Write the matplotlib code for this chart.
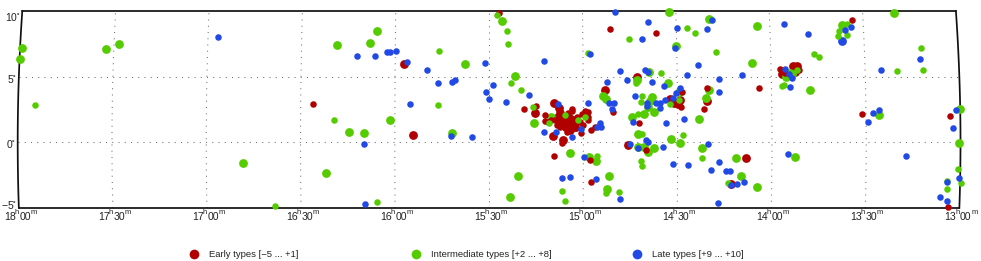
import numpy as np
import matplotlib
matplotlib.use('Agg')
import matplotlib.pyplot as plt
from matplotlib.lines import Line2D

plt.rcParams['font.family'] = ['Liberation Sans', 'DejaVu Sans']
plt.rcParams['mathtext.default'] = 'regular'

# RA in hours, Dec in degrees, bright / faint galaxies per type
early_bright_ra = [15.953, 15.903, 15.258, 15.157, 15.127, 15.132, 15.106, 15.129, 15.109, 15.079, 15.062, 15.071, 15.161, 15.106, 14.884, 14.766, 14.712, 14.539, 14.519, 14.486, 14.495, 14.344, 14.139, 14.217, 13.942, 13.881, 13.860, 13.874, 15.088, 15.053, 15.124, 15.044]
early_bright_dec = [6.00, 0.55, 2.25, 3.03, 2.60, 1.92, 1.71, 1.54, 1.46, 1.51, 1.33, 0.95, 0.47, 0.19, 3.98, -0.23, 4.99, 3.29, 2.99, 3.24, 2.93, 3.16, -1.16, -3.18, 5.22, 5.83, 5.83, 5.35, 1.84, 1.71, 2.22, 1.20]
early_faint_ra = [16.434, 15.445, 14.854, 14.611, 15.317, 15.249, 15.062, 15.203, 15.206, 15.187, 15.174, 15.124, 15.097, 15.082, 15.035, 15.032, 15.005, 14.976, 14.973, 14.973, 15.000, 15.039, 15.014, 14.961, 14.938, 15.111, 15.155, 14.958, 14.845, 14.964, 14.668, 14.705, 14.474, 14.483, 14.340, 14.361, 14.065, 13.519, 13.559, 13.054, 13.061, 13.950, 13.924, 13.853, 15.150, 15.071, 15.018, 14.991, 15.141, 15.088, 15.062]
early_faint_dec = [2.91, 9.81, 8.63, 8.34, 2.55, 2.74, 2.55, 2.08, 1.62, 1.58, 1.71, 1.20, 1.08, 2.22, 1.96, 1.58, 2.17, 2.32, 1.96, 1.71, 1.33, 1.08, 0.72, 0.95, 1.20, -0.02, -1.03, -3.01, 2.32, -1.33, -0.57, 1.50, 3.85, 2.70, 4.15, 2.57, 4.13, 2.19, 9.31, 2.04, -4.94, 5.57, 5.27, 5.47, 1.71, 1.96, 1.58, 2.35, 1.33, 0.82, 2.35]

inter_bright_ra = [17.990, 17.995, 17.543, 17.472, 16.805, 16.363, 16.313, 16.137, 16.101, 15.626, 15.432, 15.363, 16.025, 16.242, 16.166, 15.698, 15.260, 15.169, 15.071, 14.968, 14.931, 15.346, 15.387, 14.863, 14.873, 14.893, 14.879, 14.538, 14.322, 14.506, 14.648, 14.713, 14.552, 14.634, 14.645, 14.656, 14.332, 14.349, 14.490, 14.743, 14.678, 14.623, 14.708, 14.537, 14.487, 14.384, 14.369, 14.677, 14.708, 14.657, 14.627, 14.071, 14.103, 14.190, 14.164, 14.080, 13.876, 13.798, 13.923, 13.901, 13.887, 13.616, 13.332, 13.431, 13.000, 13.008]
inter_bright_dec = [7.17, 6.31, 7.07, 7.45, -1.61, -2.30, 7.43, 7.56, 8.51, 6.00, 9.23, 5.06, 1.71, 0.82, 0.70, 0.72, 1.46, 1.94, -0.85, -1.10, -1.41, -2.60, -4.17, -2.55, -3.59, 3.52, 3.29, 9.94, 9.41, 7.33, 5.37, 4.78, 4.48, 3.44, 3.18, 2.70, 3.98, 3.41, 3.82, 1.92, 2.17, 2.30, 0.67, 0.29, -0.04, 1.74, -0.40, -0.32, -0.32, -0.70, -0.40, 8.82, 6.05, -1.18, -2.60, -3.39, -1.13, 3.98, 4.99, 5.29, 5.22, 8.90, 9.81, 2.09, 2.50, -0.04]
inter_faint_ra = [17.912, 16.637, 15.769, 15.459, 15.407, 15.400, 15.381, 15.328, 15.771, 16.322, 15.265, 15.182, 15.097, 14.991, 14.973, 14.926, 15.114, 15.097, 16.094, 14.878, 14.809, 14.751, 14.443, 14.402, 14.292, 14.584, 14.720, 14.687, 14.693, 14.541, 14.493, 14.708, 14.690, 14.471, 14.369, 14.692, 14.690, 14.233, 13.946, 13.931, 13.861, 13.769, 13.744, 13.585, 13.631, 13.638, 13.591, 13.198, 13.332, 13.194, 13.010, 12.996, 13.072, 13.067, 15.027]
inter_faint_dec = [2.88, -4.86, 6.92, 9.73, 8.51, 7.50, 4.53, 3.98, 2.86, 1.71, 2.68, 1.51, 2.09, 1.94, 6.79, -1.01, -3.72, -4.48, -4.58, -3.82, -3.75, 7.88, 8.72, 8.32, 6.87, 5.29, 4.55, 3.52, 3.08, 2.93, 3.24, 2.15, 0.67, 0.55, -1.23, -1.41, -1.81, -3.06, 4.30, 4.40, 5.52, 6.69, 6.53, 9.00, 8.47, 8.13, 8.21, 7.20, 5.42, 5.50, -2.00, -3.08, -2.91, -3.59, 1.71]

late_bright_ra = [13.615]
late_bright_dec = [7.68]
late_faint_ra = [16.946, 16.205, 16.110, 16.046, 16.029, 15.997, 15.939, 15.830, 15.771, 15.695, 15.683, 15.523, 15.477, 15.516, 15.502, 15.411, 15.289, 15.210, 15.921, 16.161, 15.703, 15.590, 16.160, 15.207, 15.146, 15.062, 15.012, 14.976, 14.911, 14.926, 14.908, 14.965, 14.996, 15.114, 15.072, 14.934, 14.805, 14.826, 14.875, 14.805, 14.767, 15.132, 14.863, 14.836, 14.847, 14.726, 14.648, 14.683, 14.495, 14.338, 14.307, 14.508, 14.669, 14.657, 14.635, 14.573, 14.448, 14.390, 14.280, 14.488, 14.508, 14.565, 14.524, 14.615, 14.592, 14.660, 14.663, 14.592, 14.281, 14.560, 14.464, 14.738, 14.668, 14.655, 14.712, 14.576, 14.337, 14.524, 14.446, 14.324, 14.280, 14.282, 14.751, 14.153, 14.243, 14.221, 14.145, 14.185, 14.215, 13.916, 13.923, 13.798, 13.600, 13.567, 13.413, 13.208, 13.903, 13.891, 13.927, 13.906, 13.462, 13.430, 13.492, 13.023, 13.038, 13.289, 13.004, 13.067, 13.104, 13.068]
late_faint_dec = [8.04, 6.57, 6.61, 6.89, 6.87, 6.92, 6.15, 5.52, 4.51, 4.58, 4.76, 6.05, 4.40, 3.85, 3.29, 3.08, 3.59, 6.18, 2.93, -0.11, 0.50, 0.37, -4.66, 0.80, 0.82, 0.42, 1.01, 2.96, 1.51, 1.13, 1.13, 6.74, -1.10, -2.68, -2.63, -2.80, -4.33, 9.96, 4.61, 5.45, 4.74, 2.93, 2.96, 2.96, 2.55, 3.54, 9.15, 7.83, 8.72, 8.64, 9.33, 7.20, 5.54, 5.37, 4.63, 4.28, 5.14, 5.90, 4.84, 4.17, 3.79, 3.26, 3.37, 3.03, 3.03, 3.03, 2.76, 2.63, 3.85, 1.49, 1.81, 1.54, 0.19, 0.06, -0.40, -0.34, -0.14, -1.64, -1.74, -2.09, -1.51, -4.63, -0.14, 5.12, -2.15, -2.22, -2.99, -3.18, -3.26, -0.88, 9.03, 8.24, 8.57, 8.80, 5.54, 6.31, 4.25, 4.89, 5.60, 5.22, 2.27, 2.48, 1.54, 2.45, 1.08, -1.03, -2.73, -3.03, -4.20, -4.48]

legend_labels = ['Early types [\u22125 ... +1]', 'Intermediate types [+2 ... +8]', 'Late types [+9 ... +10]']
ra_ticks = [18, 17.5, 17, 16.5, 16, 15.5, 15, 14.5, 14, 13.5, 13]
ra_tick_labels = ['18', '17', '17', '16', '16', '15', '15', '14', '14', '13', '13']
ra_tick_mins = ['00', '30', '00', '30', '00', '30', '00', '30', '00', '30', '00']
dec_ticks = [10, 5, 0, -5]

RED = '#b00000'
GREEN = '#55cc00'
BLUE = '#2049e6'
TXT = '#222222'


def project(ra, dec):
    # sinusoidal-like about 15h30m, RA increasing to the left
    ra = np.asarray(ra, dtype=float)
    dec = np.asarray(dec, dtype=float)
    return (ra - 15.5) * np.cos(np.radians(0.8 * dec)), dec


def label(s, xy, off, **kw):
    ax.annotate(s, xy, xytext=off, textcoords='offset points', color=TXT, annotation_clip=False, **kw)


W, H = 981, 261
fig = plt.figure(figsize=(W / 100, H / 100), dpi=100)
left, right, top, bottom = 17.7, 960.5, 11.0, 208.0
ax = fig.add_axes([left / W, 1 - bottom / H, (right - left) / W, (bottom - top) / H])
ax.set_xlim(2.5, -2.5)
ax.set_ylim(-5, 10)
ax.axis('off')

dec_line = np.linspace(-5, 10, 60)

# grid
for r in ra_ticks[1:-1]:
    x, y = project(np.full(dec_line.shape, r), dec_line)
    ax.plot(x, y, color='#707070', lw=0.75, ls=(0, (1, 5)), zorder=1)
for d in [5, 0]:
    x, y = project(np.linspace(18, 13, 100), np.full(100, d))
    ax.plot(x, y, color='#707070', lw=0.75, ls=(0, (1, 5)), zorder=1)

# galaxies, big ones first and the small ones on top
big = 40
small = 22
for ra, dec, col, s in [
    (early_bright_ra, early_bright_dec, RED, big),
    (inter_bright_ra, inter_bright_dec, GREEN, big),
    (late_bright_ra, late_bright_dec, BLUE, big),
    (early_faint_ra, early_faint_dec, RED, small),
    (inter_faint_ra, inter_faint_dec, GREEN, small),
    (late_faint_ra, late_faint_dec, BLUE, small),
]:
    x, y = project(ra, dec)
    ax.scatter(x, y, s=s, color=col, linewidths=0, zorder=3, clip_on=False)

# frame
for r in [18, 13]:
    x, y = project(np.full(dec_line.shape, r), dec_line)
    ax.plot(x, y, color='#111111', lw=1.25, zorder=2, clip_on=False)
for d in [10, -5]:
    x, y = project(np.linspace(18, 13, 100), np.full(100, d))
    ax.plot(x, y, color='#111111', lw=1.25, zorder=2, clip_on=False, solid_capstyle='round')

# RA labels, the h sits tight over the gap so the pieces go down one by one
for r, h, m in zip(ra_ticks, ra_tick_labels, ra_tick_mins):
    x, _ = project(r, -5)
    label(h, (x, -5), (-2.2, -2.8), ha='right', va='top', fontsize=7.6)
    label('h', (x, -5), (-1.6, -0.9), ha='center', va='top', fontsize=5.5)
    label(m, (x, -5), (0.3, -2.8), ha='left', va='top', fontsize=7.6)
    label('m', (x, -5), (8.4, -0.9), ha='left', va='top', fontsize=5.5)

# dec labels sit inside the ends of the axis
for d, dy in zip(dec_ticks, [-4.3, -1.8, -1.1, 2.2]):
    x, _ = project(18, d)
    s = ('\u2212' + str(abs(d)) if d < 0 else str(d)) + '$^{\\circ}$'
    label(s, (x, d), (-1.2, dy), ha='right', va='center', fontsize=7.5)

# legend placed by hand, the columns are not evenly spaced
for lab, col, mx in zip(legend_labels, [RED, GREEN, BLUE], [194, 415.7, 637]):
    fig.add_artist(Line2D([mx / W], [1 - 253.5 / H], marker='o', ms=7, mfc=col, mec='none', ls='none',
                          transform=fig.transFigure))
    fig.text((mx + 15) / W, 1 - 254.5 / H, lab, ha='left', va='center', fontsize=6.8, color=TXT)

fig.savefig('out.png', dpi=100)
